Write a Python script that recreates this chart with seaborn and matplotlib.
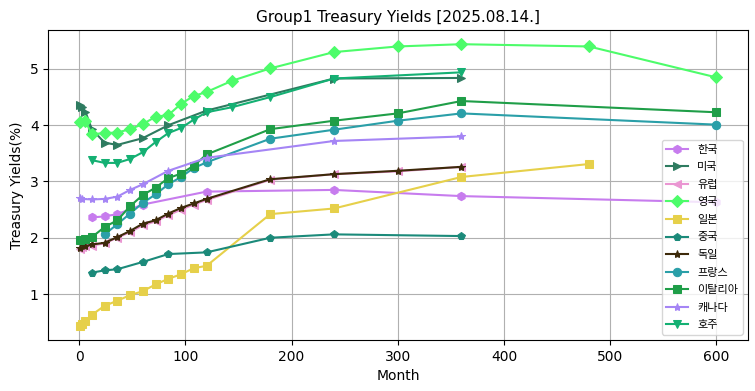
import matplotlib
matplotlib.use("Agg")
import matplotlib.pyplot as plt
import pandas as pd
import seaborn as sns

plt.rcParams['font.family'] = ['DejaVu Sans', 'Noto Sans CJK KR']

# 만기(개월) / 금리(%)
kr_m = [12, 24, 36, 60, 120, 240, 360, 600]
kr_y = [2.36, 2.38, 2.42, 2.59, 2.82, 2.85, 2.74, 2.63]

us_m = [1, 3, 6, 12, 24, 36, 60, 84, 120, 240, 360]
us_y = [4.36, 4.33, 4.24, 3.93, 3.69, 3.65, 3.77, 4.00, 4.26, 4.83, 4.84]

eu_m = [1, 3, 6, 12, 24, 36, 48, 60, 72, 84, 96, 108, 120, 180, 240, 300, 360]
eu_y = [1.80, 1.83, 1.85, 1.86, 1.90, 2.00, 2.10, 2.22, 2.29, 2.40, 2.50, 2.59, 2.67, 3.03, 3.13, 3.18, 3.26]

uk_m = [1, 6, 12, 24, 36, 48, 60, 72, 84, 96, 108, 120, 144, 180, 240, 300, 360, 480, 600]
uk_y = [4.05, 4.07, 3.84, 3.86, 3.87, 3.93, 4.02, 4.15, 4.18, 4.38, 4.52, 4.59, 4.79, 5.01, 5.30, 5.40, 5.44, 5.40, 4.85]

jp_m = [1, 3, 6, 12, 24, 36, 48, 60, 72, 84, 96, 108, 120, 180, 240, 360, 480]
jp_y = [0.43, 0.47, 0.52, 0.63, 0.79, 0.88, 0.98, 1.05, 1.17, 1.27, 1.35, 1.46, 1.50, 2.42, 2.52, 3.08, 3.31]

cn_m = [12, 24, 36, 60, 84, 120, 180, 240, 360]
cn_y = [1.38, 1.42, 1.44, 1.57, 1.71, 1.74, 2.00, 2.06, 2.03]

de_m = [1, 6, 12, 24, 36, 48, 60, 72, 84, 96, 108, 120, 180, 240, 300, 360]
de_y = [1.82, 1.85, 1.88, 1.91, 2.01, 2.12, 2.25, 2.31, 2.43, 2.53, 2.61, 2.69, 3.04, 3.13, 3.19, 3.26]

fr_m = [24, 36, 48, 60, 72, 84, 96, 108, 120, 180, 240, 300, 360, 600]
fr_y = [2.06, 2.24, 2.43, 2.62, 2.77, 2.95, 3.08, 3.24, 3.34, 3.76, 3.92, 4.08, 4.21, 4.01]

it_m = [1, 6, 12, 24, 36, 48, 60, 72, 84, 96, 108, 120, 180, 240, 300, 360, 600]
it_y = [1.96, 1.98, 2.01, 2.19, 2.31, 2.56, 2.76, 2.89, 3.06, 3.14, 3.28, 3.48, 3.93, 4.08, 4.21, 4.43, 4.23]

ca_m = [1, 3, 12, 24, 36, 48, 60, 84, 120, 240, 360]
ca_y = [2.70, 2.69, 2.68, 2.69, 2.73, 2.85, 2.95, 3.19, 3.42, 3.72, 3.80]

au_m = [12, 24, 36, 48, 60, 72, 84, 96, 108, 120, 144, 180, 240, 360]
au_y = [3.38, 3.33, 3.33, 3.40, 3.52, 3.70, 3.86, 3.95, 4.10, 4.23, 4.32, 4.50, 4.83, 4.94]

countries = ['한국', '미국', '유럽', '영국', '일본', '중국', '독일', '프랑스', '이탈리아', '캐나다', '호주']
months = [kr_m, us_m, eu_m, uk_m, jp_m, cn_m, de_m, fr_m, it_m, ca_m, au_m]
yields = [kr_y, us_y, eu_y, uk_y, jp_y, cn_y, de_y, fr_y, it_y, ca_y, au_y]
colors = ['#c77cee', '#2e7b60', '#ea96d2', '#4dfc6a', '#e6d04a', '#1b8a7a',
          '#3d2a0a', '#2a9fa8', '#1f9e48', '#a585f5', '#14b073']
markers = ['h', '>', '<', 'D', 's', 'p', '*', 'o', 's', '*', 'v']

fig, ax = plt.subplots(figsize=(7.55, 3.91), dpi=100)

for name, m, y, c, mk in zip(countries, months, yields, colors, markers):
    df = pd.DataFrame({"Month": m, "Yield": y})
    sns.lineplot(data=df, x="Month", y="Yield", ax=ax, color=c, marker=mk,
                 markersize=6, markeredgecolor=c, label=name)

ax.grid(True, color='#b0b0b0', linewidth=0.8)
ax.set_axisbelow(True)
ax.set_title("Group1 Treasury Yields [2025.08.14.]", fontsize=11)
ax.set_xlabel("Month", fontsize=10)
ax.set_ylabel("Treasury Yields(%)", fontsize=10)
leg = ax.legend(loc="lower right", fontsize=8, labelspacing=0.68)
for t in leg.get_texts():
    t.set_family(['Noto Sans CJK KR', 'DejaVu Sans'])

plt.subplots_adjust(left=0.064, right=0.991, top=0.923, bottom=0.13)
fig.savefig("out.png", dpi=100)
plt.close()
